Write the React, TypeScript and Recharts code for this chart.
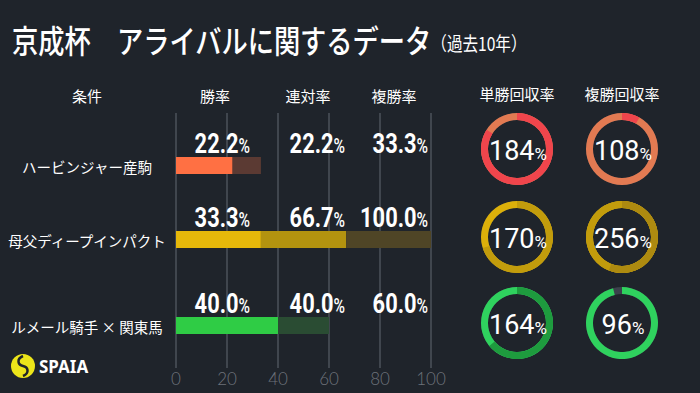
import React from "react";
import { BarChart, Bar, XAxis, YAxis, LabelList, PieChart, Pie, Label } from "recharts";

const conditions = ["ハービンジャー産駒", "母父ディープインパクト", "ルメール騎手 × 関東馬"];
const winRate = [22.2, 33.3, 40.0];
const quinellaRate = [22.2, 66.7, 40.0];
const placeRate = [33.3, 100.0, 60.0];
const winReturn = [184, 170, 164];
const placeReturn = [108, 256, 96];
const xTicks = [0, 20, 40, 60, 80, 100];
const rateHeaders = ["勝率", "連対率", "複勝率"];
const returnHeaders = ["単勝回収率", "複勝回収率"];

const BG = "#1f242b";
const JP = "'Noto Sans CJK JP', 'Noto Sans', sans-serif";
const PLOT_H = 255;

// bar shades per row: win, quinella, place
const barColors = [
  ["#ff7043", "#5b3a33", "#5b3a33"],
  ["#e6b80a", "#b3930f", "#4f4526"],
  ["#2fcc45", "#2a4c33", "#2a4c33"],
];
// donut shades per row: lap1, lap2, lap3
const ringColors = [
  ["#e27a52", "#f0454c", "#f0454c"],
  ["#dcb00a", "#c29c0c", "#ad8a10"],
  ["#2fd25e", "#1e9b3e", "#1e9b3e"],
];

const rowCenters = [164.5, 238.5, 325];
const donutRows = [148.5, 236.5, 323];
const donutCols = [517, 622];
const rateCols = [250, 345, 428];

const rows = conditions.map((name, i) => ({
  name,
  a: winRate[i],
  b: quinellaRate[i] - winRate[i],
  c: placeRate[i] - quinellaRate[i],
}));

// condensed numbers: squeeze a regular face horizontally
function Pct({ x, y, value }: { x: number; y: number; value: number }) {
  return (
    <text
      transform={`translate(${x},${y}) scale(0.78,1)`}
      textAnchor="end"
      fill="#fff"
      fontFamily="Roboto, sans-serif"
    >
      <tspan fontSize={28} fontWeight={700}>{value.toFixed(1)}</tspan>
      <tspan fontSize={20} fontWeight={500}>%</tspan>
    </text>
  );
}

function CondTick(props: any) {
  const { y, payload } = props;
  return (
    <text x={87} y={y + 1} textAnchor="middle" dominantBaseline="central" fill="#fff" fontFamily={JP} fontSize={14.5}>
      {payload.value}
    </text>
  );
}

// x tick: grid line up through the plot plus the label below it
function GridTick(props: any) {
  const { x, y, payload } = props;
  const base = y - 4;
  return (
    <g>
      <line x1={x} x2={x} y1={base - PLOT_H} y2={base} stroke="#4d525b" strokeWidth={1.5} />
      <text x={x} y={base + 17} textAnchor="middle" fill="#6d727a" fontSize={17} fontFamily="Lato, sans-serif" fontWeight={300}>
        {payload.value}
      </text>
    </g>
  );
}

function RateRow({ r }: { r: number }) {
  const rates = [winRate[r], quinellaRate[r], placeRate[r]];
  const cols = barColors[r];
  return (
    <BarChart
      width={460}
      height={66}
      data={[rows[r]]}
      layout="vertical"
      margin={{ top: 36, right: 29, bottom: 0, left: 0 }}
      barCategoryGap={0}
    >
      <XAxis type="number" domain={[0, 100]} hide />
      <YAxis type="category" dataKey="name" width={176} axisLine={false} tickLine={false} tick={<CondTick />} />
      <Bar dataKey="a" stackId="s" fill={cols[0]} barSize={17} isAnimationActive={false}>
        <LabelList
          dataKey="a"
          content={(p: any) => (
            <g>
              {rates.map((v, k) => (
                <Pct key={k} x={rateCols[k]} y={p.y - 4} value={v} />
              ))}
            </g>
          )}
        />
      </Bar>
      <Bar dataKey="b" stackId="s" fill={cols[1]} barSize={17} isAnimationActive={false} />
      <Bar dataKey="c" stackId="s" fill={cols[2]} barSize={17} isAnimationActive={false} />
    </BarChart>
  );
}

function Donut({ value, colors }: { value: number; colors: string[] }) {
  const laps: number[] = [];
  for (let i = 0; value - 100 * i > 0; i++) laps.push(Math.min(100, value - 100 * i));
  const centre = (p: any) => {
    const cx = p.viewBox?.cx ?? 38;
    const cy = p.viewBox?.cy ?? 38;
    return (
      <text x={cx + 1} y={cy + 11} textAnchor="middle" fill="#fff" fontFamily="Roboto, sans-serif">
        <tspan fontSize={27}>{value}</tspan>
        <tspan fontSize={17}>%</tspan>
      </text>
    );
  };
  return (
    <PieChart width={76} height={76} margin={{ top: 0, right: 0, bottom: 0, left: 0 }}>
      <Pie
        data={[{ v: 1 }]}
        dataKey="v"
        cx={38}
        cy={38}
        innerRadius={29}
        outerRadius={36}
        startAngle={90}
        endAngle={-270}
        fill="#3b414b"
        stroke="none"
        isAnimationActive={false}
      />
      {laps.map((p, i) => (
        <Pie
          key={i}
          data={[{ v: p }]}
          dataKey="v"
          cx={38}
          cy={38}
          innerRadius={29}
          outerRadius={36}
          startAngle={90}
          endAngle={90 - 3.6 * p}
          fill={colors[i]}
          stroke="none"
          isAnimationActive={false}
        >
          {i === laps.length - 1 && <Label position="center" content={centre} />}
        </Pie>
      ))}
    </PieChart>
  );
}

function Header({ x, y, text }: { x: number; y: number; text: string }) {
  return (
    <div
      style={{
        position: "absolute",
        left: x,
        top: y,
        transform: "translate(-50%, -50%)",
        color: "#fff",
        fontFamily: JP,
        fontSize: 15,
        whiteSpace: "nowrap",
      }}
    >
      {text}
    </div>
  );
}

export default function App() {
  return (
    <div
      style={{
        position: "absolute",
        left: 0,
        top: 0,
        width: 700,
        height: 393,
        background: BG,
        overflow: "hidden",
      }}
    >
      {/* title */}
      <div
        style={{
          position: "absolute",
          left: 12,
          top: 19,
          fontFamily: JP,
          fontSize: 32,
          lineHeight: "40px",
          fontWeight: 500,
          color: "#fff",
          whiteSpace: "nowrap",
          transform: "scaleX(0.82)",
          transformOrigin: "left center",
        }}
      >
        京成杯　アライバルに関するデータ
        <span style={{ fontSize: 19, fontWeight: 400, verticalAlign: "2px" }}>（過去10年）</span>
      </div>

      <Header x={87} y={95} text="条件" />
      {rateHeaders.map((h, i) => (
        <Header key={h} x={[215, 308, 394][i]} y={95} text={h} />
      ))}
      {returnHeaders.map((h, i) => (
        <Header key={h} x={donutCols[i]} y={93} text={h} />
      ))}

      {/* grid + x axis */}
      <div style={{ position: "absolute", left: 0, top: 113 }}>
        <BarChart width={460} height={280} data={rows} layout="vertical" margin={{ top: 0, right: 29, bottom: 0, left: 0 }}>
          <XAxis
            type="number"
            domain={[0, 100]}
            ticks={xTicks}
            interval={0}
            height={25}
            axisLine={false}
            tickLine={false}
            tickSize={2}
            tick={<GridTick />}
          />
          <YAxis type="category" dataKey="name" width={176} tick={false} axisLine={false} tickLine={false} />
          <Bar dataKey="a" fill="none" isAnimationActive={false} />
        </BarChart>
      </div>

      {rowCenters.map((c, r) => (
        <div key={r} style={{ position: "absolute", left: 0, top: c - 51 }}>
          <RateRow r={r} />
        </div>
      ))}

      {donutRows.map((cy, r) =>
        [winReturn[r], placeReturn[r]].map((v, k) => (
          <div key={`${r}-${k}`} style={{ position: "absolute", left: donutCols[k] - 38, top: cy - 38 }}>
            <Donut value={v} colors={ringColors[r]} />
          </div>
        ))
      )}

      {/* logo */}
      <svg style={{ position: "absolute", left: 10, top: 353 }} width={90} height={28}>
        <circle cx={13} cy={13} r={12} fill="#ece51a" />
        <path d="M13 3 C6 6 8 12 13 13 C18 14 20 20 13 23" stroke={BG} strokeWidth={2.5} fill="none" />
        <text x={29} y={20} fill="#fff" fontFamily="'Noto Sans', sans-serif" fontWeight={700} fontSize={17}>
          SPAIA
        </text>
      </svg>
    </div>
  );
}
